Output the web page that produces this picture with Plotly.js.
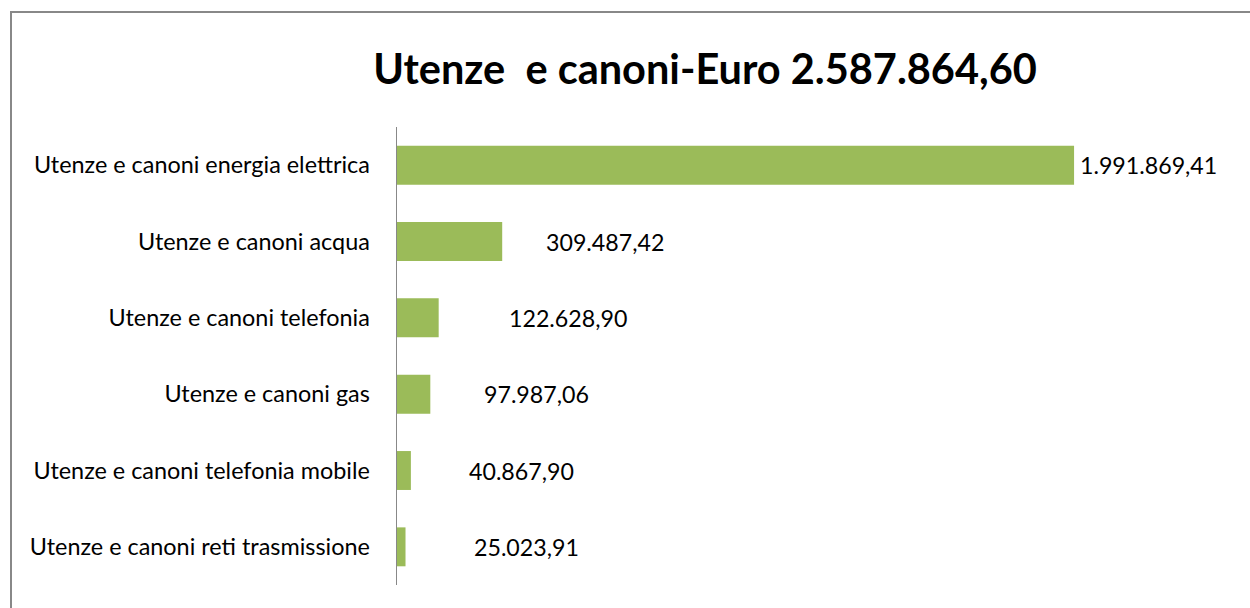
<!DOCTYPE html>
<html>
<head>
<meta charset="utf-8">
<script src="https://cdn.plot.ly/plotly-3.0.1.min.js"></script>
<style>
  html, body { margin: 0; padding: 0; background: #ffffff; overflow: hidden; }
  #chart { width: 1250px; height: 608px; }
</style>
</head>
<body>
<div id="chart"></div>
<script>
const categories = [
  "Utenze e canoni energia elettrica",
  "Utenze e canoni acqua",
  "Utenze e canoni telefonia",
  "Utenze e canoni gas",
  "Utenze e canoni telefonia mobile",
  "Utenze e canoni reti trasmissione"
];
const values = [1991869.41, 309487.42, 122628.90, 97987.06, 40867.90, 25023.91];
const valueLabels = ["1.991.869,41", "309.487,42", "122.628,90", "97.987,06", "40.867,90", "25.023,91"];
const labelShift = [4, 42, 68, 52, 56, 66];
const titleText = "Utenze  e canoni-Euro 2.587.864,60";

const FONT = "Lato, 'Open Sans', sans-serif";
const W = 1250, H = 608;
const M = { l: 397, r: 10, t: 127, b: 23 };
const pw = W - M.l - M.r, ph = H - M.t - M.b;
// convert pixel position to paper coordinates for the outer frame
const px = (x) => (x - M.l) / pw;
const py = (y) => (H - M.b - y) / ph;

const trace = {
  type: "bar",
  orientation: "h",
  x: values,
  y: categories,
  marker: { color: "#9BBB59" },
  hoverinfo: "none"
};

const annotations = values.map((v, i) => ({
  x: v,
  y: categories[i],
  xref: "x",
  yref: "y",
  text: valueLabels[i],
  showarrow: false,
  xanchor: "left",
  yanchor: "middle",
  xshift: labelShift[i],
  font: { family: FONT, size: 23.2, color: "#000000" }
}));

const frameLine = { color: "#888888", width: 2 };
const shapes = [
  { type: "line", xref: "paper", yref: "paper", x0: px(11), x1: px(11), y0: py(12), y1: py(H + 5), line: frameLine },
  { type: "line", xref: "paper", yref: "paper", x0: px(10), x1: px(W + 5), y0: py(12), y1: py(12), line: frameLine }
];

const layout = {
  width: W,
  height: H,
  margin: M,
  paper_bgcolor: "#ffffff",
  plot_bgcolor: "rgba(0,0,0,0)",
  showlegend: false,
  bargap: 0.49,
  title: {
    text: "<b>" + titleText + "</b>",
    font: { family: FONT, size: 41.5, color: "#000000" },
    x: 0.564, xanchor: "center", xref: "container",
    y: 0.885, yanchor: "middle", yref: "container"
  },
  xaxis: {
    range: [0, 2480000],
    showgrid: false, zeroline: false, showline: false,
    showticklabels: false, ticks: "", fixedrange: true
  },
  yaxis: {
    autorange: "reversed",
    showgrid: false, zeroline: false,
    showline: true, linecolor: "#888888", linewidth: 1.5,
    ticks: "", ticklabelstandoff: 21,
    tickfont: { family: FONT, size: 23.4, color: "#000000" },
    fixedrange: true
  },
  shapes: shapes,
  annotations: annotations
};

Plotly.newPlot("chart", [trace], layout, { staticPlot: true, displayModeBar: false });
</script>
</body>
</html>
